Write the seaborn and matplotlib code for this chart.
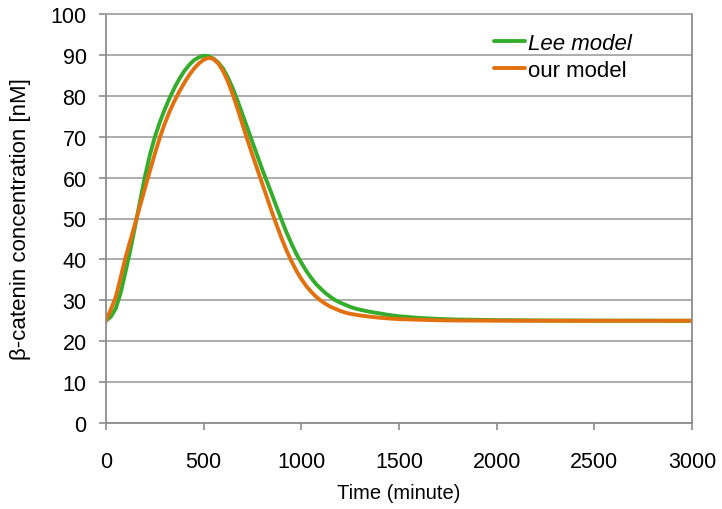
import matplotlib
matplotlib.use("Agg")
import matplotlib.pyplot as plt
import seaborn as sns
import pandas as pd

# ---- data ----
time_min = [0, 25, 50, 75, 100, 125, 150, 175, 200, 225, 250, 275, 300, 325,
            350, 375, 400, 425, 450, 475, 500, 525, 550, 575, 600, 625, 650,
            675, 700, 725, 750, 775, 800, 825, 850, 875, 900, 925, 950, 975,
            1000, 1025, 1050, 1075, 1100, 1125, 1150, 1175, 1200, 1225, 1250,
            1275, 1300, 1350, 1400, 1450, 1500, 1600, 1700, 1800, 2000, 2200,
            2500, 3000]
lee_model = [25.0, 26.0, 28.0, 31.8, 37.0, 42.4, 48.3, 54.4, 60.4, 65.6, 69.9,
             73.5, 76.6, 79.4, 81.9, 84.1, 86.0, 87.5, 88.7, 89.4, 89.8, 89.7,
             89.1, 88.1, 86.6, 84.4, 81.7, 78.6, 75.3, 72.0, 68.6, 65.3, 62.0,
             58.9, 55.8, 52.6, 49.5, 46.5, 43.8, 41.3, 39.2, 37.2, 35.5, 34.0,
             32.8, 31.7, 30.8, 30.0, 29.4, 28.9, 28.4, 28.0, 27.7, 27.2, 26.8,
             26.4, 26.1, 25.7, 25.45, 25.3, 25.15, 25.08, 25.03, 25.0]
our_model = [25.0, 27.8, 30.8, 35.6, 40.5, 44.7, 48.9, 53.2, 57.5, 61.7, 65.8,
             69.7, 73.1, 76.1, 78.7, 81.0, 83.1, 85.0, 86.6, 87.9, 88.8, 89.3,
             89.0, 87.9, 86.0, 83.4, 80.2, 76.6, 72.8, 69.1, 65.5, 62.0, 58.5,
             55.0, 51.5, 48.2, 45.0, 42.1, 39.5, 37.2, 35.2, 33.5, 32.1, 30.9,
             29.9, 29.1, 28.4, 27.9, 27.4, 27.0, 26.7, 26.5, 26.3, 26.0, 25.75,
             25.55, 25.4, 25.25, 25.12, 25.06, 25.02, 25.0, 25.0, 25.0]
series_names = ["Lee model", "our model"]
x_ticks = [0, 500, 1000, 1500, 2000, 2500, 3000]
y_ticks = [0, 10, 20, 30, 40, 50, 60, 70, 80, 90, 100]

df = pd.concat([
    pd.DataFrame({"time": time_min, "value": lee_model, "model": series_names[0]}),
    pd.DataFrame({"time": time_min, "value": our_model, "model": series_names[1]}),
], ignore_index=True)

sns.set_theme(style="white")
plt.rcParams["font.family"] = ["Liberation Sans", "DejaVu Sans"]
plt.rcParams["text.color"] = "black"
plt.rcParams["axes.labelcolor"] = "black"

fig = plt.figure(figsize=(7.22, 5.10), dpi=100)
ax = fig.add_axes([106 / 722, 1 - 424 / 510, (692 - 106) / 722, (424 - 15) / 510])

palette = {series_names[0]: "#33ad2b", series_names[1]: "#e2700f"}
sns.lineplot(data=df, x="time", y="value", hue="model", palette=palette,
             linewidth=2.8, ax=ax, sort=True, estimator=None)
for line in ax.get_lines():
    line.set_solid_joinstyle("round")
    line.set_solid_capstyle("round")

ax.set_xlim(0, 3000)
ax.set_ylim(0, 100)
ax.set_xticks(x_ticks)
ax.set_yticks(y_ticks)
ax.grid(axis="y", color="#a6a6a6", linewidth=1.3)
ax.grid(axis="x", visible=False)
ax.set_axisbelow(True)

for side in ["left", "bottom", "right", "top"]:
    ax.spines[side].set_visible(True)
    ax.spines[side].set_color("#8c8c8c")
    ax.spines[side].set_linewidth(1.3)
ax.spines["top"].set_color("#a6a6a6")

ax.tick_params(axis="both", which="major", direction="out", length=5,
               width=1.2, color="#8c8c8c", labelsize=15.5, labelcolor="black",
               left=True, bottom=True)
ax.tick_params(axis="x", pad=15)
ax.tick_params(axis="y", pad=9)

ax.set_xlabel("Time (minute)", fontsize=14.5, labelpad=8)
ax.set_ylabel("β-catenin concentration [nM]", fontsize=16, labelpad=14)

leg = ax.legend(loc="upper left", bbox_to_anchor=(0.662, 0.953), frameon=False,
                fontsize=16, handlelength=1.4, handletextpad=0.15,
                labelspacing=0.25, borderaxespad=0.0, borderpad=0.0)
for line in leg.get_lines():
    line.set_linewidth(2.8)
leg.get_texts()[0].set_style("italic")

fig.savefig("out.png", dpi=100)
